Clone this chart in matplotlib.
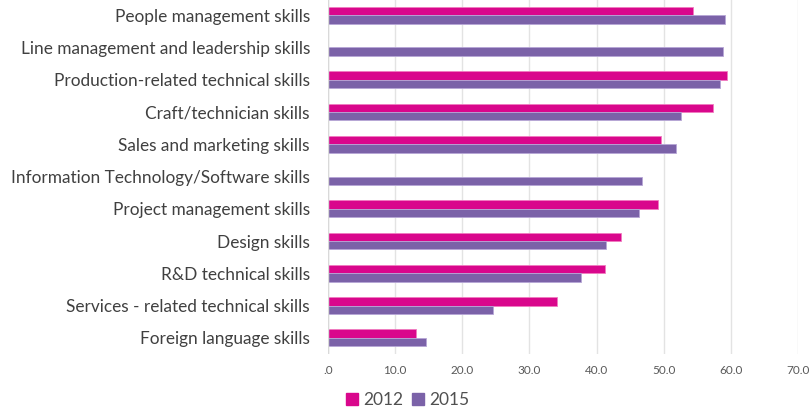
import matplotlib
matplotlib.use("Agg")
import matplotlib.pyplot as plt
import numpy as np
from matplotlib.patches import Patch

categories = [
    "People management skills",
    "Line management and leadership skills",
    "Production-related technical skills",
    "Craft/technician skills",
    "Sales and marketing skills",
    "Information Technology/Software skills",
    "Project management skills",
    "Design skills",
    "R&D technical skills",
    "Services - related technical skills",
    "Foreign language skills",
]
values_2012 = [54.4, 0.0, 59.4, 57.4, 49.6, 0.0, 49.1, 43.6, 41.3, 34.1, 13.1]
values_2015 = [59.1, 58.8, 58.4, 52.5, 51.8, 46.8, 46.3, 41.4, 37.7, 24.5, 14.6]
xticks = [0, 10, 20, 30, 40, 50, 60, 70]
xtick_labels = [".0", "10.0", "20.0", "30.0", "40.0", "50.0", "60.0", "70.0"]

c2012 = "#D9078C"
c2015 = "#7B62A8"

plt.rcParams["font.family"] = ["Lato", "DejaVu Sans"]

fig = plt.figure(figsize=(8.11, 4.12), dpi=100)
ax = fig.add_axes([328 / 811, 58 / 412, 470 / 811, 355 / 412])

y = np.arange(len(categories))
h = 0.26
ax.barh(y - h / 2, values_2012, height=h, color=c2012, edgecolor="#F07CC0", linewidth=0.6, zorder=3)
ax.barh(y + h / 2, values_2015, height=h, color=c2015, edgecolor="#B7A6D6", linewidth=0.6, zorder=3)

ax.set_xlim(0, 70)
ax.set_ylim(len(categories) - 0.5, -0.5)
ax.set_yticks(y)
ax.set_yticklabels(categories, fontsize=12.4, color="#404040")
ax.set_xticks(xticks)
ax.set_xticklabels(xtick_labels, fontsize=8.5, color="#595959")
ax.tick_params(axis="y", length=0, pad=13)
ax.tick_params(axis="x", length=0, pad=8)
ax.grid(axis="x", color="#E3E3E3", linewidth=1, zorder=0)
for s in ax.spines.values():
    s.set_visible(False)
ax.axvline(0, color="#D9D9D9", linewidth=1, zorder=4)

handles = [Patch(color=c2012, label="2012"), Patch(color=c2015, label="2015")]
fig.legend(handles=handles, loc="center", bbox_to_anchor=(408 / 811, 1 - 400 / 412), ncol=2,
           frameon=False, fontsize=12.5, handlelength=0.7, handleheight=0.7,
           handletextpad=0.3, columnspacing=0.5, labelcolor="#505050")

fig.savefig("out.png", dpi=100)
